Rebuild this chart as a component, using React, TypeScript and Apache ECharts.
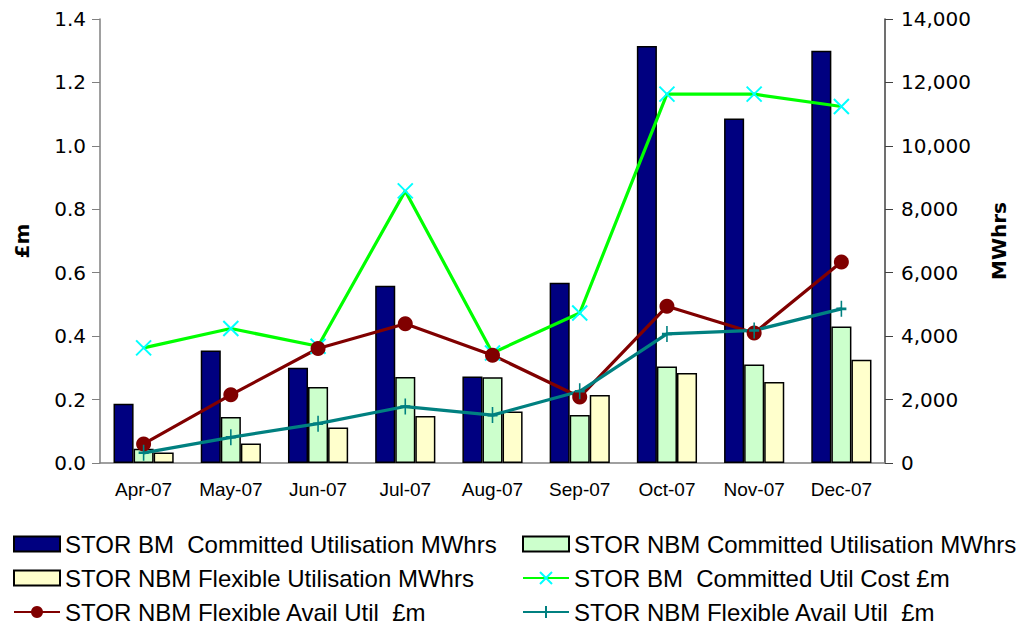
import React, { useEffect, useRef } from "react";
import * as echarts from "echarts";

const categories = ["Apr-07", "May-07", "Jun-07", "Jul-07", "Aug-07", "Sep-07", "Oct-07", "Nov-07", "Dec-07"];
const bmCommittedMWh = [1870, 3550, 3005, 5590, 2731, 5685, 13148, 10866, 13000];
const nbmCommittedMWh = [451, 1450, 2396, 2711, 2700, 1513, 3046, 3109, 4307];
const nbmFlexibleMWh = [334, 618, 1122, 1482, 1627, 2144, 2838, 2554, 3257];
const bmCommittedCost = [0.363, 0.424, 0.368, 0.858, 0.347, 0.473, 1.163, 1.163, 1.124];
const nbmFlexAvailA = [0.06, 0.215, 0.361, 0.439, 0.34, 0.208, 0.494, 0.41, 0.634];
const nbmFlexAvailB = [0.032, 0.081, 0.124, 0.178, 0.151, 0.226, 0.407, 0.418, 0.486];

const names: Record<string, string> = {
  s1: "STOR BM  Committed Utilisation MWhrs",
  s2: "STOR NBM Committed Utilisation MWhrs",
  s3: "STOR NBM Flexible Utilisation MWhrs",
  s4: "STOR BM  Committed Util Cost £m",
  s5: "STOR NBM Flexible Avail Util  £m",
  s6: "STOR NBM Flexible Avail Util  £m",
};

export default function App() {
  const ref = useRef<HTMLDivElement>(null);
  useEffect(() => {
    const chart = echarts.init(ref.current!, undefined, { renderer: "svg" });
    const tickFont = { fontFamily: "DejaVu Sans", fontSize: 20, color: "#000" };
    const legendCommon = {
      orient: "vertical" as const,
      padding: 0,
      itemWidth: 46,
      itemHeight: 15,
      itemGap: 10,
      height: 92,
      formatter: (n: string) => names[n],
      textStyle: { fontFamily: "Liberation Sans", fontSize: 24, lineHeight: 23, color: "#000" },
      selectedMode: false,
    };
    chart.setOption({
      animation: false,
      grid: { left: 100, right: 133, top: 19, bottom: 161 },
      legend: [
        {
          ...legendCommon,
          left: 13,
          top: 532,
          data: [{ name: "s1", icon: "rect" }, { name: "s3", icon: "rect" }, { name: "s5" }],
        },
        {
          ...legendCommon,
          left: 522,
          top: 532,
          data: [{ name: "s2", icon: "rect" }, { name: "s4" }, { name: "s6" }],
        },
      ],
      xAxis: {
        type: "category",
        data: categories,
        axisLine: { lineStyle: { color: "#808080", width: 1.5 } },
        axisTick: { alignWithLabel: false, length: 6, lineStyle: { color: "#808080" } },
        axisLabel: { fontFamily: "Liberation Sans", fontSize: 19, color: "#000", margin: 17 },
      },
      yAxis: [
        {
          type: "value",
          min: 0,
          max: 1.4,
          interval: 0.2,
          name: "£m",
          nameLocation: "middle",
          nameRotate: 90,
          nameGap: 68,
          nameTextStyle: { fontFamily: "DejaVu Sans", fontWeight: "bold", fontSize: 20, color: "#000" },
          axisLine: { show: true, lineStyle: { color: "#808080", width: 1.5 } },
          axisTick: { show: true, length: 8, lineStyle: { color: "#808080" } },
          splitLine: { show: false },
          axisLabel: { ...tickFont, margin: 14, formatter: (v: number) => v.toFixed(1) },
        },
        {
          type: "value",
          min: 0,
          max: 14000,
          interval: 2000,
          name: "MWhrs",
          nameLocation: "middle",
          nameRotate: 90,
          nameGap: 104,
          nameTextStyle: { fontFamily: "DejaVu Sans", fontWeight: "bold", fontSize: 20, color: "#000" },
          axisLine: { show: true, lineStyle: { color: "#404040", width: 1.5 } },
          axisTick: { show: true, length: 8, lineStyle: { color: "#404040" } },
          splitLine: { show: false },
          axisLabel: {
            ...tickFont,
            margin: 16,
            formatter: (v: number) => v.toLocaleString("en-US"),
          },
        },
      ],
      series: [
        {
          name: "s1",
          type: "bar",
          yAxisIndex: 1,
          data: bmCommittedMWh,
          barGap: "0%",
          barCategoryGap: "31%",
          itemStyle: { color: "#000080", borderColor: "#000", borderWidth: 1.5 },
        },
        {
          name: "s2",
          type: "bar",
          yAxisIndex: 1,
          data: nbmCommittedMWh,
          itemStyle: { color: "#CCFFCC", borderColor: "#000", borderWidth: 1.5 },
        },
        {
          name: "s3",
          type: "bar",
          yAxisIndex: 1,
          data: nbmFlexibleMWh,
          itemStyle: { color: "#FFFFCC", borderColor: "#000", borderWidth: 1.5 },
        },
        {
          name: "s4",
          type: "line",
          yAxisIndex: 0,
          data: bmCommittedCost,
          symbol: "path://M0,0L10,10M10,0L0,10",
          symbolSize: 15,
          lineStyle: { color: "#00FF00", width: 3.2 },
          itemStyle: { color: "#00FFFF", borderColor: "#00FFFF", borderWidth: 2 },
        },
        {
          name: "s5",
          type: "line",
          yAxisIndex: 0,
          data: nbmFlexAvailA,
          symbol: "circle",
          symbolSize: 15,
          lineStyle: { color: "#800000", width: 3.2 },
          itemStyle: { color: "#800000", borderColor: "#800000", borderWidth: 0 },
        },
        {
          name: "s6",
          type: "line",
          yAxisIndex: 0,
          data: nbmFlexAvailB,
          symbol: "path://M5,0L5,10M0,5L10,5",
          symbolSize: [10, 16],
          lineStyle: { color: "#008080", width: 3.2 },
          itemStyle: { color: "#008080", borderColor: "#008080", borderWidth: 2 },
        },
      ],
    });
    return () => chart.dispose();
  }, []);
  return (
    <div
      ref={ref}
      style={{ position: "fixed", left: 0, top: 0, width: 1018, height: 624, background: "#fff" }}
    />
  );
}
